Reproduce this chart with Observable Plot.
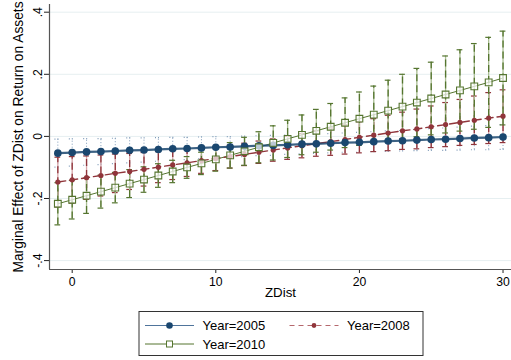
<!DOCTYPE html>
<html>
<head>
<meta charset="utf-8">
<script src="https://cdn.jsdelivr.net/npm/d3@7"></script>
<script src="https://cdn.jsdelivr.net/npm/@observablehq/plot@0.6"></script>
<style>
  html, body { margin: 0; padding: 0; background: #fff; }
</style>
</head>
<body>
<div id="chart"></div>
<script>
// ---- Data ----
const zdist = [-1,0,1,2,3,4,5,6,7,8,9,10,11,12,13,14,15,16,17,18,19,20,21,22,23,24,25,26,27,28,29,30];

const years = ["Year=2005", "Year=2008", "Year=2010"];

const effect2005 = [-0.054,-0.052,-0.050,-0.049,-0.047,-0.045,-0.044,-0.042,-0.040,-0.039,-0.037,-0.035,-0.034,-0.032,-0.030,-0.029,-0.027,-0.025,-0.024,-0.022,-0.020,-0.019,-0.017,-0.015,-0.014,-0.012,-0.010,-0.009,-0.007,-0.005,-0.004,-0.002];
const ci2005 = [0.045,0.044,0.043,0.042,0.041,0.040,0.039,0.038,0.037,0.036,0.035,0.034,0.033,0.033,0.032,0.032,0.031,0.031,0.031,0.031,0.031,0.032,0.032,0.033,0.033,0.034,0.035,0.036,0.037,0.038,0.039,0.040];

const effect2008 = [-0.147,-0.140,-0.133,-0.126,-0.119,-0.113,-0.106,-0.099,-0.092,-0.085,-0.078,-0.071,-0.065,-0.058,-0.051,-0.044,-0.037,-0.030,-0.023,-0.017,-0.010,-0.003,0.004,0.011,0.018,0.024,0.031,0.038,0.045,0.052,0.059,0.065];
const ci2008 = [0.080,0.075,0.070,0.066,0.062,0.058,0.054,0.050,0.047,0.044,0.041,0.039,0.037,0.036,0.036,0.036,0.037,0.039,0.041,0.044,0.047,0.050,0.053,0.057,0.060,0.064,0.067,0.071,0.074,0.078,0.082,0.085];

const effect2010 = [-0.217,-0.204,-0.191,-0.178,-0.165,-0.152,-0.139,-0.126,-0.113,-0.100,-0.087,-0.074,-0.061,-0.048,-0.035,-0.021,-0.008,0.005,0.018,0.031,0.044,0.057,0.070,0.083,0.096,0.109,0.122,0.135,0.148,0.161,0.174,0.188];
const ci2010 = [0.068,0.062,0.057,0.053,0.049,0.045,0.041,0.038,0.036,0.035,0.036,0.038,0.041,0.045,0.050,0.055,0.060,0.064,0.069,0.075,0.080,0.086,0.092,0.098,0.104,0.110,0.117,0.124,0.131,0.138,0.145,0.151];

const xTicks = [0, 10, 20, 30];
const yTicks = [-0.4, -0.2, 0, 0.2, 0.4];
const yTickLabels = ["-.4", "-.2", "0", ".2", ".4"];
const xTitle = "ZDist";
const yTitle = "Marginal Effect of ZDist on Return on Assets";

// ---- Build table ----
function rows(vals, ci, year) {
  return zdist.map((x, i) => ({x, y: vals[i], lo: vals[i] - ci[i], hi: vals[i] + ci[i], year}));
}
const d05 = rows(effect2005, ci2005, years[0]);
const d08 = rows(effect2008, ci2008, years[1]);
const d10 = rows(effect2010, ci2010, years[2]);

const BLUE = "#1a476f", RED = "#90353b", GREEN = "#55752f";
const xDom = [-1.58, 30.59];
const yDom = [-0.4287, 0.4248];
const capW = 0.2;

function ciMarks(data, color, light, dash, widthDash) {
  const capDash = dash === "1,2" ? dash : null;
  return [
    Plot.ruleX(data, {x: "x", y1: "lo", y2: "hi", stroke: light, strokeWidth: 1.3}),
    Plot.ruleX(data, {x: "x", y1: "lo", y2: "hi", stroke: color, strokeWidth: widthDash, strokeDasharray: dash}),
    Plot.ruleY(data, {y: "lo", x1: d => d.x - capW, x2: d => d.x + capW, stroke: color, strokeWidth: 1.2, strokeDasharray: capDash}),
    Plot.ruleY(data, {y: "hi", x1: d => d.x - capW, x2: d => d.x + capW, stroke: color, strokeWidth: 1.2, strokeDasharray: capDash})
  ];
}

const svg = Plot.plot({
  width: 511,
  height: 360,
  marginLeft: 49,
  marginRight: 0,
  marginTop: 4,
  marginBottom: 91,
  style: {fontFamily: "'Liberation Sans', Arial, sans-serif", fontSize: "12px", background: "#fff", color: "#000"},
  x: {domain: xDom},
  y: {domain: yDom},
  marks: [
    Plot.gridY(yTicks, {stroke: "#e6eff1", strokeOpacity: 1, strokeWidth: 1}),
    Plot.axisX(xTicks, {tickSize: 4, tickPadding: 4, label: null, fontSize: 12.2, stroke: "#222"}),
    Plot.axisY(yTicks, {tickSize: 5, tickPadding: 2.5, tickRotate: -90, tickFormat: d => yTickLabels[yTicks.indexOf(d)], label: null, fontSize: 12.2, stroke: "#222"}),
    Plot.text([yTitle], {frameAnchor: "left", dx: -31, rotate: -90, textAnchor: "middle", fontSize: 13.8, fill: "#000"}),
    Plot.text([xTitle], {frameAnchor: "bottom", dy: 27, textAnchor: "middle", fontSize: 13.3, fill: "#000"}),

    ...ciMarks(d05, "#7f9ab8", "none", "1,2", 1),
    ...ciMarks(d08, RED, "#d7a5a8", "7,4", 1.3),
    ...ciMarks(d10, GREEN, "#a9bd92", "7,4", 1.3),

    Plot.line(d10, {x: "x", y: "y", stroke: GREEN, strokeWidth: 1}),
    Plot.line(d08, {x: "x", y: "y", stroke: RED, strokeWidth: 1.4, strokeDasharray: "8,4"}),
    Plot.dot(d08, {x: "x", y: "y", r: 2.6, fill: RED, stroke: "none"}),
    Plot.line(d05, {x: "x", y: "y", stroke: BLUE, strokeWidth: 2.2, strokeOpacity: 0.85}),
    Plot.dot(d05, {x: "x", y: "y", r: 3.8, fill: BLUE, stroke: "none"}),
    Plot.dot(d10, {x: "x", y: "y", r: 3.8, symbol: "square", fill: "#fff", fillOpacity: 0.7, stroke: GREEN, strokeWidth: 1.1}),

    Plot.ruleX([xDom[0]], {stroke: "#555", strokeWidth: 1.2}),
    Plot.ruleY([yDom[0]], {stroke: "#555", strokeWidth: 1.2})
  ]
});

// ---- Legend below the plot area ----
const g = d3.select(svg).append("g")
  .attr("font-family", "'Liberation Sans', Arial, sans-serif")
  .attr("font-size", 13)
  .attr("text-anchor", "start");
g.append("rect").attr("x", 139).attr("y", 311.5).attr("width", 284).attr("height", 44)
  .attr("fill", "#fff").attr("stroke", "#333").attr("stroke-width", 1);
const legendItems = [
  {label: years[0], color: BLUE, x: 145, y: 325.5, kind: "blue"},
  {label: years[1], color: RED, x: 289.5, y: 325.5, kind: "red"},
  {label: years[2], color: GREEN, x: 145, y: 344, kind: "green"}
];
for (const it of legendItems) {
  const line = g.append("line").attr("x1", it.x).attr("x2", it.x + 49).attr("y1", it.y).attr("y2", it.y)
    .attr("stroke", it.color);
  if (it.kind === "blue") {
    line.attr("stroke-width", 1.2).attr("stroke", "#4f749b");
    g.append("circle").attr("cx", it.x + 24.5).attr("cy", it.y).attr("r", 3.3).attr("fill", it.color);
  } else if (it.kind === "red") {
    line.attr("stroke-width", 1.2).attr("stroke-dasharray", "5,4").attr("stroke", "#b5686d");
    g.append("circle").attr("cx", it.x + 24.5).attr("cy", it.y).attr("r", 2.4).attr("fill", it.color);
  } else {
    line.attr("stroke-width", 1);
    g.append("rect").attr("x", it.x + 21.5).attr("y", it.y - 3).attr("width", 6).attr("height", 6)
      .attr("fill", "#fff").attr("stroke", it.color).attr("stroke-width", 1);
  }
  g.append("text").attr("x", it.x + 57.5).attr("y", it.y).attr("dy", "0.36em").attr("fill", "#000").text(it.label);
}

document.getElementById("chart").appendChild(svg);
</script>
</body>
</html>
